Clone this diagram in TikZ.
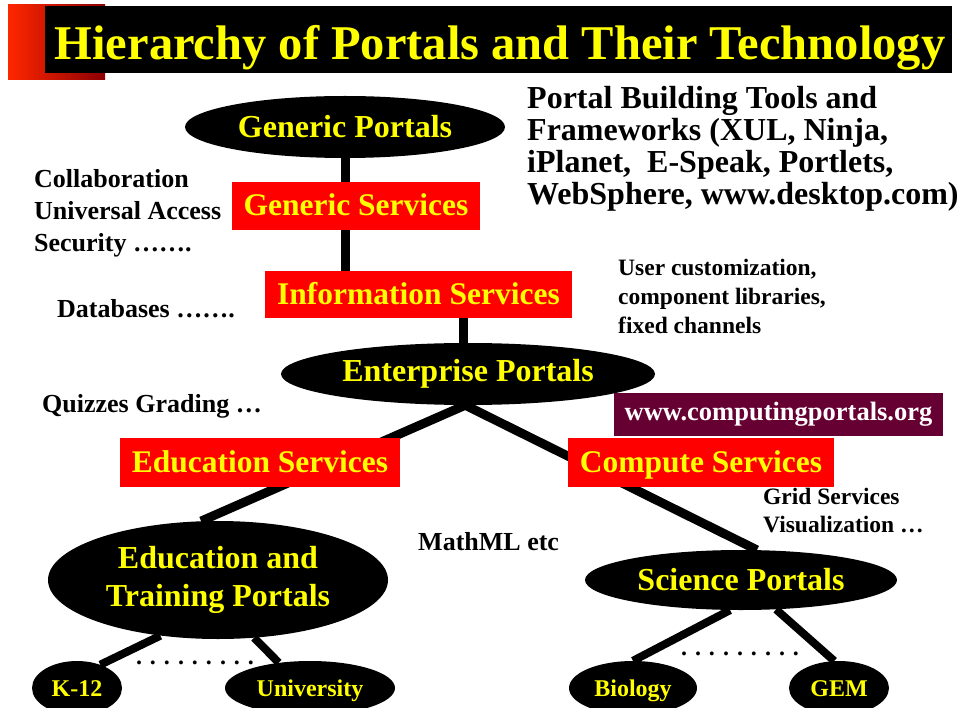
\documentclass[tikz,border=0pt]{standalone}
\usepackage{fontspec}
\setmainfont{Liberation Serif}
\usetikzlibrary{shapes.geometric,backgrounds}
\definecolor{portalyellow}{RGB}{255,255,0}
\definecolor{boxred}{RGB}{255,0,0}
\definecolor{urlmaroon}{RGB}{102,0,51}
\tikzset{
  portal/.style={ellipse,fill=black,text=portalyellow,inner sep=0pt,font=\bfseries\fontsize{32}{34}\selectfont,align=center},
  smallportal/.style={portal,text height=16pt,text depth=0pt,font=\bfseries\fontsize{24}{24}\selectfont},
  service/.style={rectangle,fill=boxred,text=portalyellow,inner sep=0pt,minimum height=48pt,text height=22pt,text depth=2pt,font=\bfseries\fontsize{31.5}{32}\selectfont},
  note/.style={anchor=west,align=left,inner sep=0pt,font=\bfseries\fontsize{26}{32}\selectfont},
  link/.style={line width=9pt},
  thinlink/.style={line width=8pt}
}
\begin{document}
\begin{tikzpicture}[x=1pt,y=-1pt]
\useasboundingbox (0,0) rectangle (957,708);
% title bar
\shade[left color=red!85!yellow,right color=red!55!black] (8,5) rectangle (105,80);
\fill[black] (45,6) rectangle (952,73);
\node[text=portalyellow,anchor=base,inner sep=0pt,font=\bfseries\fontsize{48.5}{50}\selectfont] (title) at (500,60) {Hierarchy of Portals and Their Technology};
% portals and services
\node[portal,minimum width=320pt,minimum height=62pt] (gp) at (345,127) {Generic Portals};
\node[service,minimum width=248pt] (gs) at (356,206) {Generic Services};
\node[service,minimum width=307pt,minimum height=47pt] (info) at (418.5,294.5) {Information Services};
\node[portal,minimum width=374pt,minimum height=62pt] (ent) at (468,374) {Enterprise Portals};
\node[rectangle,fill=urlmaroon,text=white,inner sep=0pt,minimum width=329pt,minimum height=43pt,font=\bfseries\fontsize{26.5}{28}\selectfont] (url) at (778.5,414.5) {www.computingportals.org};
\node[service,minimum width=280pt,minimum height=49pt] (edu) at (260,462.5) {Education Services};
\node[service,minimum width=266pt,minimum height=49pt] (comp) at (701,462.5) {Compute Services};
\node[portal,minimum width=340pt,minimum height=118pt,font=\bfseries\fontsize{32}{38}\selectfont] (edtp) at (218,580) {Education and\\Training Portals};
\node[portal,minimum width=312pt,minimum height=60pt] (sci) at (741,580) {Science Portals};
\node[smallportal,minimum width=90pt,minimum height=54pt] (k12) at (77,688) {K-12};
\node[smallportal,minimum width=170pt,minimum height=54pt] (univ) at (310,688) {University};
\node[smallportal,minimum width=128pt,minimum height=54pt] (bio) at (633,688) {Biology};
\node[smallportal,minimum width=100pt,minimum height=54pt] (gem) at (839,688) {GEM};
% notes
\node[note,font=\bfseries\fontsize{32}{32}\selectfont] (tools) at (527,149) {Portal Building Tools and\\Frameworks (XUL, Ninja,\\iPlanet,\ \ E-Speak, Portlets,\\WebSphere, www.desktop.com)};
\node[note] (collab) at (34,213) {Collaboration\\Universal Access\\Security \dots\dots.};
\node[note] (db) at (57,309) {Databases \dots\dots.};
\node[note,font=\bfseries\fontsize{23.5}{29}\selectfont] (custom) at (618,296) {User customization,\\component libraries,\\fixed channels};
\node[note] (quiz) at (42,406) {Quizzes Grading \dots};
\node[note] (mathml) at (418,542) {MathML etc};
\node[note,font=\bfseries\fontsize{23.5}{28}\selectfont] (grid) at (763,511) {Grid Services\\Visualization \dots};
\node[anchor=base,inner sep=0pt,font=\bfseries\fontsize{24}{24}\selectfont] (dotsa) at (195,664) {. . . . . . . . .};
\node[anchor=base,inner sep=0pt,font=\bfseries\fontsize{24}{24}\selectfont] (dotsb) at (740,655) {. . . . . . . . .};
% connectors
\begin{scope}[on background layer]
\draw[link] (gp.south) -- (gp.south |- info.north);
\draw[link] (ent.north) ++(-5,0) coordinate (entup) -- (entup |- info.south);
\draw[link] (ent.265) -- (edtp.106);
\draw[link] (ent.265) -- (sci.62);
\draw[thinlink] (edtp.224) -- (k12.45);
\draw[thinlink] (edtp.302) -- (univ.141);
\draw[thinlink] (sci.250) -- (bio.90);
\draw[thinlink] (sci.320) -- (gem.100);
\end{scope}
\end{tikzpicture}
\end{document}
